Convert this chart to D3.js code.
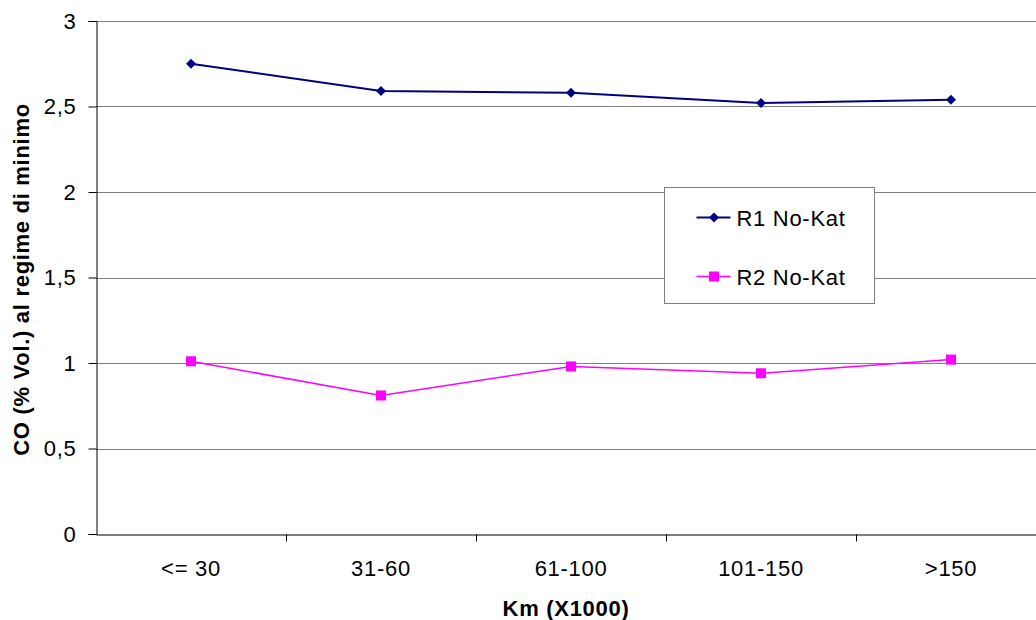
<!DOCTYPE html>
<html>
<head>
<meta charset="utf-8">
<script src="https://cdn.jsdelivr.net/npm/d3@7"></script>
<style>
  body { margin: 0; background: #fff; }
  svg { display: block; font-family: "Liberation Sans", Arial, sans-serif; }
</style>
</head>
<body>
<div id="root"></div>
<script>
const categories = ['<= 30', '31-60', '61-100', '101-150', '>150'];
const r1Values = [2.75, 2.59, 2.58, 2.52, 2.54];
const r2Values = [1.01, 0.81, 0.98, 0.94, 1.02];
const yTicks = [0, 0.5, 1, 1.5, 2, 2.5, 3];
const seriesNames = ['R1 No-Kat', 'R2 No-Kat'];

const margin = { left: 96, right: -10, top: 21, bottom: 86 };
const fullW = 1036, fullH = 620;
const width = fullW - margin.left - margin.right;
const height = fullH - margin.top - margin.bottom;
const fontSize = '22px';
const spacing = '0.7px';

const svg = d3.select('#root').append('svg')
  .attr('width', fullW)
  .attr('height', fullH);

const g = svg.append('g')
  .attr('transform', `translate(${margin.left}, ${margin.top})`);

// scales
const x = d3.scaleBand()
  .domain(categories)
  .range([0, width]);

const y = d3.scaleLinear()
  .domain([0, 3])
  .range([height, 0]);

const fmt = d => String(d).replace('.', ',');

// gridlines
g.append('g').selectAll('line').data(yTicks.filter(d => d > 0))
  .enter().append('line')
    .attr('x1', 0)
    .attr('x2', width)
    .attr('y1', d => Math.round(y(d)) + 0.5)
    .attr('y2', d => Math.round(y(d)) + 0.5)
    .attr('stroke', '#808080')
    .attr('stroke-width', 1);

// y axis
const yAxis = d3.axisLeft(y)
  .tickValues(yTicks)
  .tickFormat(fmt)
  .tickSize(8)
  .tickPadding(12);

const yg = g.append('g').attr('transform', 'translate(0.5,0)').call(yAxis);
yg.selectAll('text').attr('font-size', fontSize).attr('fill', '#000')
  .attr('letter-spacing', spacing)
  .attr('font-family', '"Liberation Sans", Arial, sans-serif');
yg.selectAll('line').attr('stroke', '#000');
yg.select('.domain').attr('stroke', '#000');

// x axis
const xAxis = d3.axisBottom(x).tickSize(0).tickPadding(26);
const xg = g.append('g')
  .attr('transform', `translate(0, ${Math.round(height) + 0.5})`)
  .call(xAxis);
xg.selectAll('text').attr('font-size', fontSize).attr('fill', '#000')
  .attr('letter-spacing', spacing)
  .attr('font-family', '"Liberation Sans", Arial, sans-serif');
xg.select('.domain').attr('stroke', '#000');

// category boundary ticks
xg.selectAll('.bound').data(categories.slice(1))
  .enter().append('line')
    .attr('class', 'bound')
    .attr('x1', d => Math.round(x(d)) + 0.5)
    .attr('x2', d => Math.round(x(d)) + 0.5)
    .attr('y1', 0)
    .attr('y2', 7)
    .attr('stroke', '#000');

// axis titles
g.append('text')
  .attr('x', x(categories[2]) + x.bandwidth() / 2 - 5)
  .attr('y', height + 82)
  .attr('text-anchor', 'middle')
  .attr('font-size', fontSize)
  .attr('letter-spacing', spacing)
  .attr('font-weight', 'bold')
  .text('Km (X1000)');

g.append('text')
  .attr('transform', 'rotate(-90)')
  .attr('x', -height / 2 - 2)
  .attr('y', -67)
  .attr('text-anchor', 'middle')
  .attr('font-size', fontSize)
  .attr('letter-spacing', spacing)
  .attr('font-weight', 'bold')
  .text('CO (% Vol.) al regime di minimo');

const cx = d => x(d) + x.bandwidth() / 2;
const line = d3.line()
  .x(d => cx(d.cat))
  .y(d => y(d.v));

const r1 = categories.map((c, i) => ({ cat: c, v: r1Values[i] }));
const r2 = categories.map((c, i) => ({ cat: c, v: r2Values[i] }));

const navy = '#000080', magenta = '#ff00ff';

g.append('path').datum(r1)
  .attr('d', line).attr('fill', 'none')
  .attr('stroke', navy).attr('stroke-width', 2);
g.append('path').datum(r2)
  .attr('d', line).attr('fill', 'none')
  .attr('stroke', magenta).attr('stroke-width', 1.5);

const diamond = d3.symbol().type(d3.symbolSquare).size(50);

g.append('g').selectAll('path').data(r1)
  .enter().append('path')
    .attr('d', diamond)
    .attr('transform', d => `translate(${cx(d.cat)}, ${y(d.v)}) rotate(45)`)
    .attr('fill', navy);

g.append('g').selectAll('rect').data(r2)
  .enter().append('rect')
    .attr('x', d => cx(d.cat) - 5)
    .attr('y', d => y(d.v) - 5)
    .attr('width', 10)
    .attr('height', 10)
    .attr('fill', magenta);

// legend
const lg = svg.append('g').attr('transform', 'translate(664.5, 187.5)');
lg.append('rect')
  .attr('width', 210)
  .attr('height', 116)
  .attr('fill', '#fff')
  .attr('stroke', '#808080')
  .attr('stroke-width', 1);

const legendItems = [
  { name: seriesNames[0], color: navy, type: 'diamond', y: 30 },
  { name: seriesNames[1], color: magenta, type: 'square', y: 89 }
];

legendItems.forEach((it) => {
  const row = lg.append('g').attr('transform', `translate(0, ${it.y})`);
  row.append('line')
    .attr('x1', 32).attr('x2', 66)
    .attr('stroke', it.color).attr('stroke-width', it.type === 'diamond' ? 2 : 1.5);
  if (it.type === 'diamond') {
    row.append('path').attr('d', diamond)
      .attr('transform', 'translate(49.5, 0) rotate(45)')
      .attr('fill', it.color);
  } else {
    row.append('rect')
      .attr('x', 44.5).attr('y', -5)
      .attr('width', 10).attr('height', 10)
      .attr('fill', it.color);
  }
  row.append('text')
    .attr('x', 72)
    .attr('y', 8)
    .attr('font-size', fontSize)
    .attr('letter-spacing', spacing)
    .text(it.name);
});
</script>
</body>
</html>
